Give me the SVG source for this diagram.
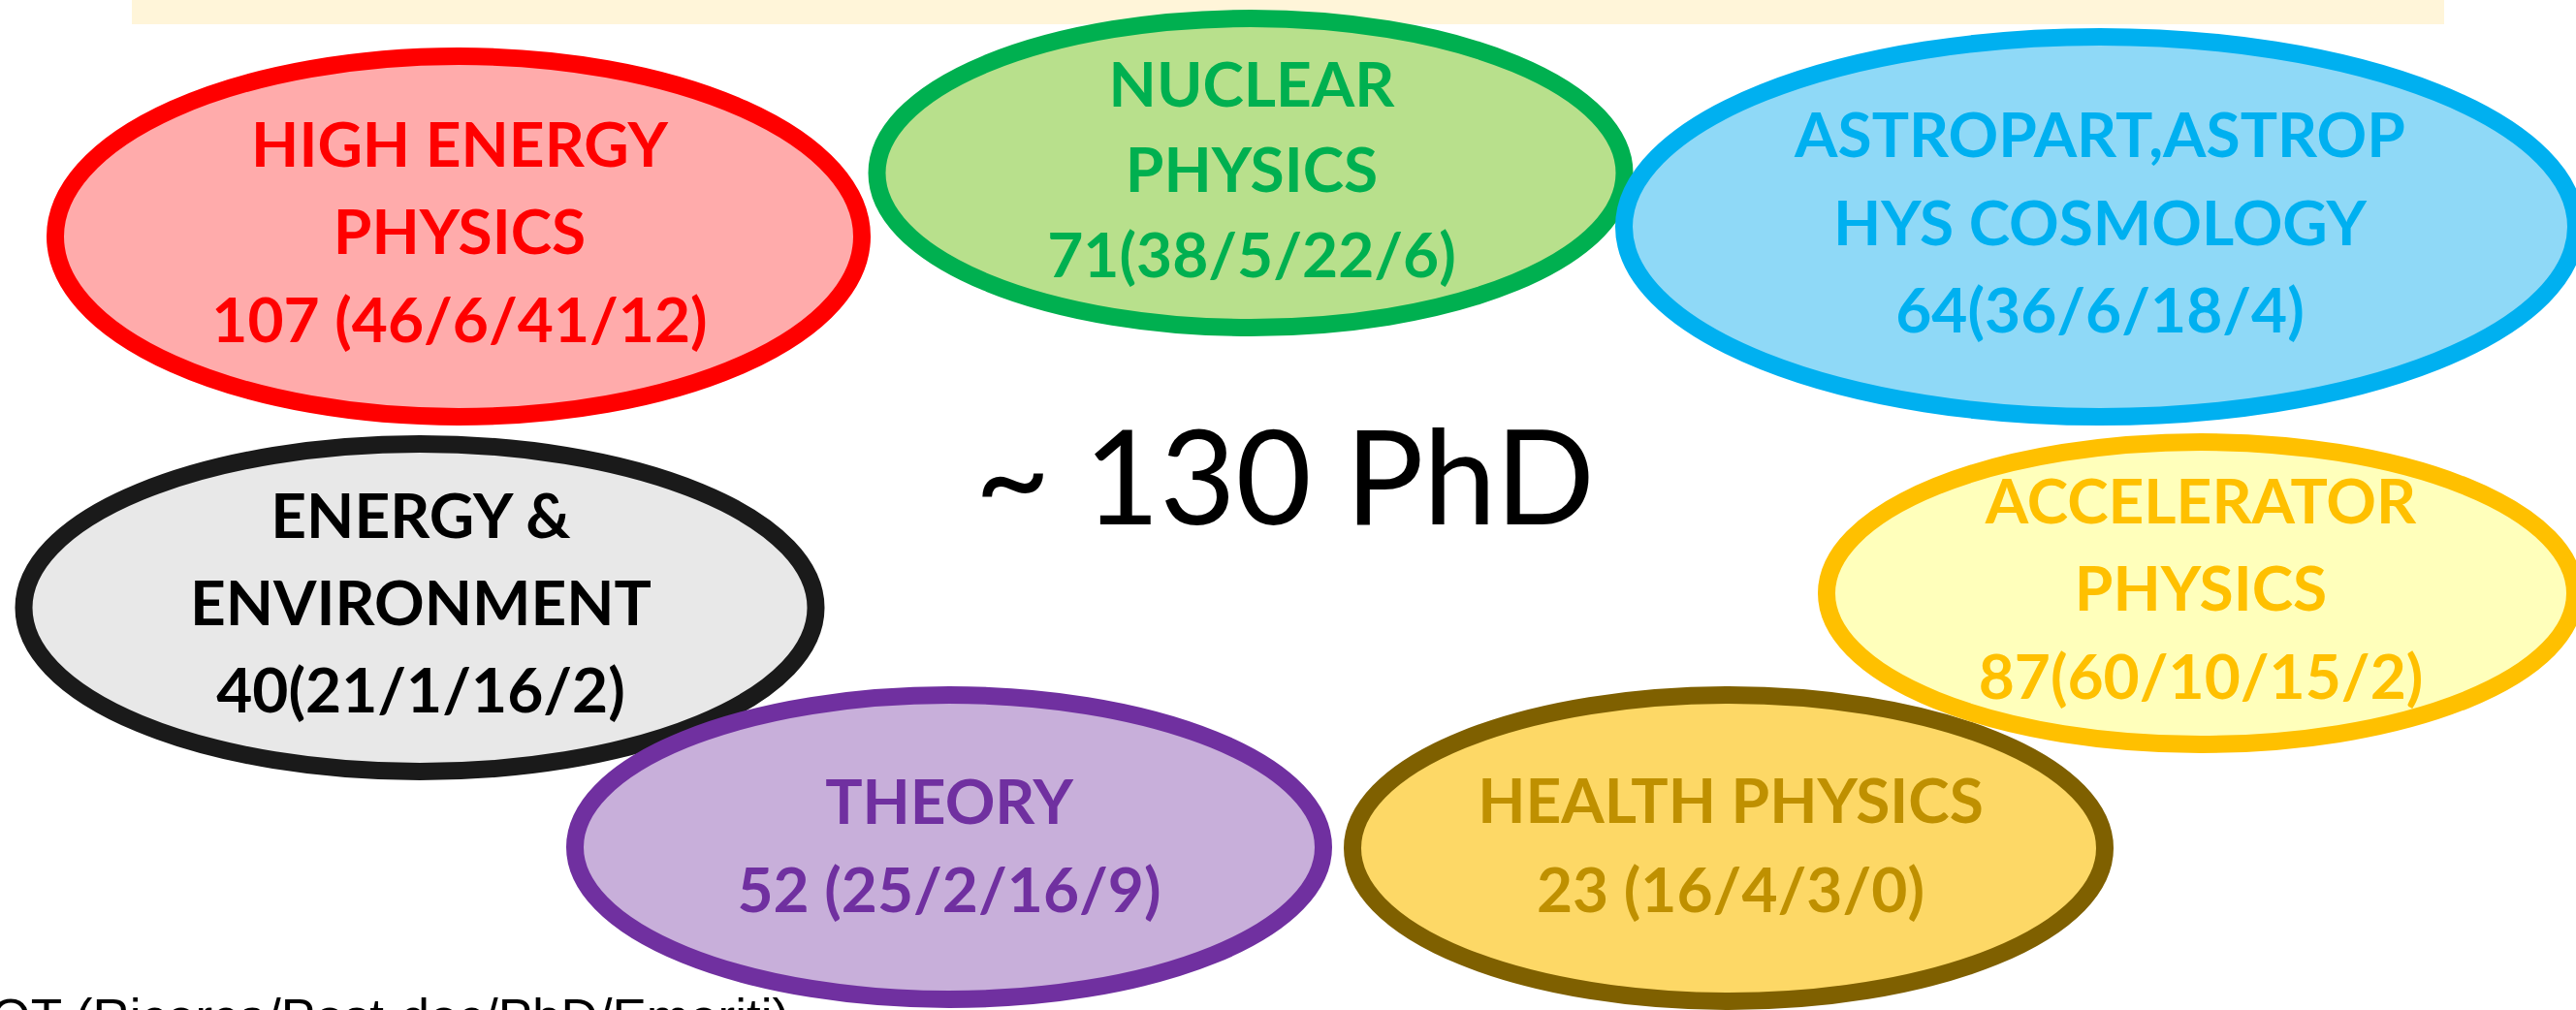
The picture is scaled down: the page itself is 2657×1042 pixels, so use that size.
<svg xmlns="http://www.w3.org/2000/svg" width="2657" height="1042" viewBox="0 0 2657 1042">
<style>
.ell{stroke-width:18}
.lbl{font-family:Lato,"Liberation Sans",sans-serif;font-weight:bold;font-size:64px;text-anchor:middle}
.big{font-family:Lato,"Liberation Sans",sans-serif;font-size:135px;text-anchor:middle;fill:#000}
.foot{font-family:"Liberation Sans",Arial,sans-serif;font-size:53px;fill:#000}
</style>
<rect x="0" y="0" width="2657" height="1042" fill="#fff"/>
<rect id="banner" x="136" y="0" width="2385" height="25" fill="#FFF5D9"/>
<g id="high-energy">
<ellipse class="ell" cx="473" cy="244" rx="416" ry="186" fill="#FFABAB" stroke="#FF0000"/>
<g class="lbl" fill="#FF0000">
<text x="474" y="172">HIGH ENERGY</text>
<text x="474" y="262">PHYSICS</text>
<text x="474" y="353">107 (46/6/41/12)</text>
</g>
</g>
<g id="nuclear">
<ellipse class="ell" cx="1290" cy="178.5" rx="385.5" ry="159.5" fill="#B8E08C" stroke="#00B050"/>
<g class="lbl" fill="#00B050">
<text x="1291" y="110">NUCLEAR</text>
<text x="1291" y="198">PHYSICS</text>
<text x="1291" y="286">71(38/5/22/6)</text>
</g>
</g>
<g id="astro">
<ellipse class="ell" cx="2166" cy="234" rx="491" ry="196" fill="#8FD9F7" stroke="#00B0F0"/>
<g class="lbl" fill="#00B0F0">
<text x="2166" y="162">ASTROPART,ASTROP</text>
<text x="2166" y="253">HYS COSMOLOGY</text>
<text x="2166" y="343">64(36/6/18/4)</text>
</g>
</g>
<g id="energy-env">
<ellipse class="ell" cx="433" cy="627" rx="408.5" ry="169" fill="#E8E8E8" stroke="#1A1A1A"/>
<g class="lbl" fill="#000000">
<text x="434" y="555">ENERGY &amp;</text>
<text x="434" y="645">ENVIRONMENT</text>
<text x="434" y="735">40(21/1/16/2)</text>
</g>
</g>
<g id="theory">
<ellipse class="ell" cx="979" cy="874" rx="386" ry="157" fill="#C8AFDA" stroke="#7030A0"/>
<g class="lbl" fill="#7030A0">
<text x="979" y="850">THEORY</text>
<text x="979" y="941">52 (25/2/16/9)</text>
</g>
</g>
<g id="health">
<ellipse class="ell" cx="1783" cy="875" rx="388" ry="158" fill="#FDD866" stroke="#7F6000"/>
<g class="lbl" fill="#BF9000">
<text x="1785" y="849">HEALTH PHYSICS</text>
<text x="1785" y="941">23 (16/4/3/0)</text>
</g>
</g>
<g id="accelerator">
<ellipse class="ell" cx="2270" cy="612" rx="386" ry="156" fill="#FFFFBB" stroke="#FFC000"/>
<g class="lbl" fill="#FFC000">
<text x="2270" y="540">ACCELERATOR</text>
<text x="2270" y="630">PHYSICS</text>
<text x="2270" y="721">87(60/10/15/2)</text>
</g>
</g>
<g id="connectors"></g>
<text id="total" class="big" x="1325" y="541">~ 130 PhD</text>
<text id="footnote" class="foot" x="-41" y="1068">TOT (Ricerca/Post-doc/PhD/Emeriti)</text>
</svg>
